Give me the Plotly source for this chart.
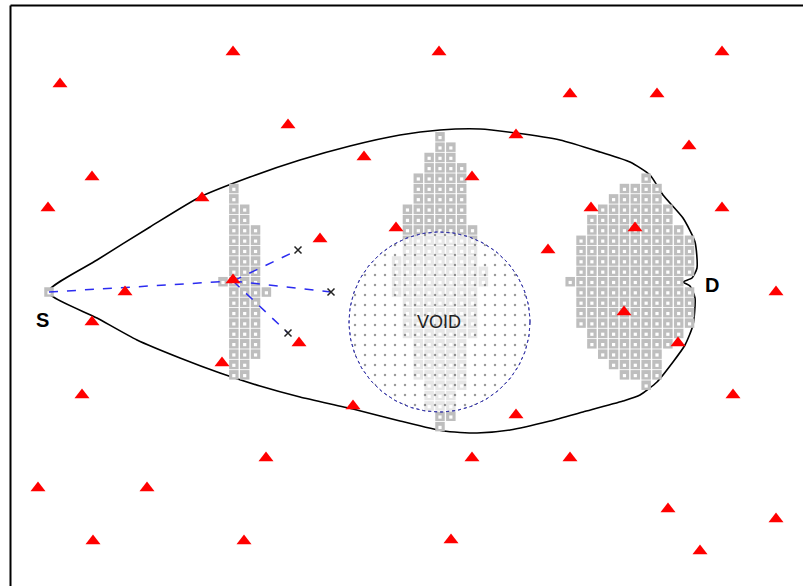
import numpy as np
import plotly.graph_objects as go

# ---------------- data ----------------
# node grid (pixel-space scene coordinates)
GRID_X0, GRID_DX = 440.0, 10.85
GRID_Y0, GRID_DY = 281.7, 10.35

# clusters of visited grid cells: (row, first col, last col)
left_rows = [(-9, -19, -19), (-8, -19, -19), (-7, -19, -18), (-6, -19, -18),
             (-5, -19, -17), (-4, -19, -17), (-3, -19, -17), (-2, -19, -17),
             (-1, -19, -17), (0, -20, -17), (1, -19, -16), (2, -19, -17),
             (3, -19, -17), (4, -19, -17), (5, -19, -17), (6, -19, -17),
             (7, -19, -17), (8, -19, -18), (9, -19, -18)]
middle_rows = [(-14, 0, 0), (-13, 0, 1), (-12, -1, 1), (-11, -1, 2),
               (-10, -2, 2), (-9, -2, 2), (-8, -2, 2), (-7, -3, 2),
               (-6, -3, 2), (-5, -3, 3), (-4, -3, 3), (-3, -3, 3),
               (-2, -4, 3), (-1, -4, 4), (0, -4, 4), (1, -4, 3),
               (2, -3, 3), (3, -3, 3), (4, -3, 3), (5, -3, 3),
               (6, -2, 2), (7, -2, 2), (8, -2, 2), (9, -2, 2),
               (10, -1, 2), (11, -1, 1), (12, -1, 1), (13, 0, 1), (14, 0, 0)]
right_rows = [(-10, 19, 19), (-9, 17, 20), (-8, 16, 20), (-7, 15, 21),
              (-6, 14, 21), (-5, 14, 22), (-4, 13, 23), (-3, 13, 23),
              (-2, 13, 23), (-1, 13, 23), (0, 12, 22), (1, 13, 23),
              (2, 13, 23), (3, 13, 23), (4, 13, 23), (5, 14, 22),
              (6, 14, 21), (7, 15, 20), (8, 16, 20), (9, 17, 20),
              (10, 19, 19)]

# red triangles (anchor nodes)
tri_x = [233, 60, 439, 722, 570, 657, 288, 92, 48, 364, 516, 689, 202, 472,
         591, 722, 320, 396, 548, 635, 233, 125, 92, 299, 776, 624, 678, 222,
         82, 353, 516, 733, 266, 472, 570, 38, 147, 668, 776, 93, 244, 451, 700]
tri_y = [52, 84, 52, 52, 94, 94, 125, 177, 208, 157, 135, 146, 198, 177,
         208, 208, 239, 228, 250, 228, 280, 292, 322, 343, 292, 312, 343, 363,
         395, 406, 415, 395, 458, 458, 458, 488, 488, 509, 519, 541, 541, 540, 551]

# envelope curve S -> D -> S
env_x = [48, 97, 150, 200, 250, 300, 350, 400, 440, 480, 516, 560, 600, 630,
         650, 663, 683, 695, 697, 692, 683, 690, 695, 693, 685, 673, 657, 640,
         623, 583, 550, 510, 477, 443, 400, 353, 300, 260, 220, 180, 137, 97, 48]
env_y = [292, 260, 227, 197, 177, 160, 146, 135, 130, 129, 133, 140, 152, 162,
         175, 195, 218, 242, 268, 278, 282, 286, 298, 325, 345, 362, 382, 395,
         401, 412, 421, 430, 433, 431, 421, 409, 397, 386, 373, 358, 340, 318, 292]

# source, hub and probe points
src = (49, 292)
hub = (233, 281)
probe_x = [298, 331, 288]
probe_y = [250, 292, 333]

# void region
void_center = (439.5, 322.0)
void_radius = (90.5, 90.0)

# ---------------- build ----------------
def expand(rows):
    xs, ys = [], []
    for r, c0, c1 in rows:
        for c in range(c0, c1 + 1):
            xs.append(GRID_X0 + c * GRID_DX)
            ys.append(GRID_Y0 + r * GRID_DY)
    return xs, ys

sq_x, sq_y = [], []
for rows in (left_rows, middle_rows, right_rows):
    a, b = expand(rows)
    sq_x += a
    sq_y += b
sq_x.append(src[0]); sq_y.append(src[1])

fig = go.Figure()

# envelope
fig.add_trace(go.Scatter(x=env_x, y=env_y, mode="lines",
                         line=dict(color="black", width=1.6, shape="spline", smoothing=0.6),
                         hoverinfo="skip"))

# grid cells
fig.add_trace(go.Scatter(x=sq_x, y=sq_y, mode="markers",
                         marker=dict(symbol="square", size=9.5, color="#bebebe", line=dict(width=0)),
                         hoverinfo="skip"))
fig.add_trace(go.Scatter(x=sq_x, y=[v + 0.8 for v in sq_y], mode="markers",
                         marker=dict(symbol="square", size=3.2, color="white", line=dict(width=0)),
                         hoverinfo="skip"))

# void circle
t = np.linspace(0, 2 * np.pi, 181)
cx = void_center[0] + void_radius[0] * np.cos(t)
cy = void_center[1] + void_radius[1] * np.sin(t)
fig.add_trace(go.Scatter(x=cx, y=cy, mode="lines", fill="toself",
                         fillcolor="rgba(255,255,255,0.62)",
                         line=dict(color="#3a3aa8", width=1, dash="dot"),
                         hoverinfo="skip"))
fig.add_trace(go.Scatter(x=cx, y=cy, mode="lines", fill="toself",
                         fillcolor="rgba(0,0,0,0)",
                         fillpattern=dict(shape=".", size=10, solidity=0.05,
                                          fgcolor="#333333", bgcolor="rgba(0,0,0,0)"),
                         line=dict(color="#3a3aa8", width=1, dash="dot"),
                         hoverinfo="skip"))

# dashed route
fig.add_trace(go.Scatter(x=[src[0], hub[0]], y=[src[1], hub[1]], mode="lines",
                         line=dict(color="#2b2bf0", width=1.5, dash="dash"), hoverinfo="skip"))
for px, py in zip(probe_x, probe_y):
    fig.add_trace(go.Scatter(x=[hub[0], px], y=[hub[1], py], mode="lines",
                             line=dict(color="#2b2bf0", width=1.5, dash="dash"), hoverinfo="skip"))
fig.add_trace(go.Scatter(x=probe_x, y=probe_y, mode="markers",
                         marker=dict(symbol="x-thin", size=7, line=dict(color="#222222", width=1.5)),
                         hoverinfo="skip"))

# anchors
fig.add_trace(go.Scatter(x=tri_x, y=tri_y, mode="markers",
                         marker=dict(symbol="triangle-up", size=13, color="#ff0000", line=dict(width=0)),
                         hoverinfo="skip"))

# labels
fig.add_annotation(x=42, y=320, text="<b>S</b>", showarrow=False,
                   font=dict(family="Liberation Sans, Arial", size=20, color="black"))
fig.add_annotation(x=712, y=285, text="<b>D</b>", showarrow=False,
                   font=dict(family="Liberation Sans, Arial", size=20, color="black"))
fig.add_annotation(x=439, y=322, text="VOID", showarrow=False,
                   font=dict(family="Liberation Sans, Arial", size=18, color="#222222"))

# frame (left and top edges)
fig.add_shape(type="line", x0=10.5, x1=10.5, y0=5.5, y1=586, line=dict(color="black", width=2))
fig.add_shape(type="line", x0=10.5, x1=803, y0=5.5, y1=5.5, line=dict(color="black", width=2))

fig.update_layout(width=803, height=586, margin=dict(l=0, r=0, t=0, b=0),
                  paper_bgcolor="white", plot_bgcolor="white", showlegend=False,
                  xaxis=dict(range=[0, 803], visible=False, fixedrange=True),
                  yaxis=dict(range=[586, 0], visible=False, fixedrange=True))

fig.write_html("out.html", config={"displayModeBar": False},
               post_script="document.body.style.margin='0';document.body.style.overflow='hidden';")
